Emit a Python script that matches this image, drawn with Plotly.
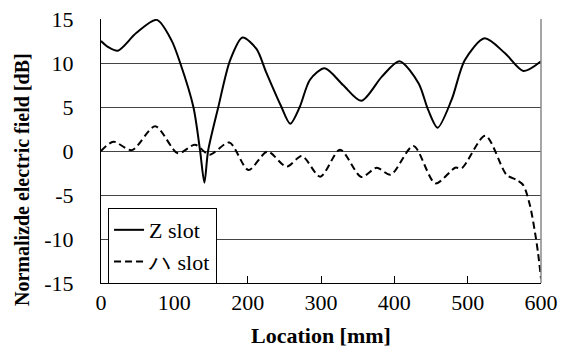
import plotly.graph_objects as go

# Data
z_x = [0, 10, 23, 48, 76, 96, 108, 126, 135, 141, 146, 160, 176, 193, 212, 225, 245, 258, 271, 285,
       305, 330, 355, 383, 407, 433, 446, 459, 478, 496, 523, 551, 576, 600]
z_y = [12.5, 11.8, 11.4, 13.4, 14.9, 12.6, 10.0, 5.0, 0.1, -3.6, 0.0, 5.0, 10.3, 12.9, 11.6, 9.0, 5.2, 3.1, 5.0, 8.1,
       9.4, 7.5, 5.7, 8.45, 10.2, 7.7, 4.7, 2.65, 5.8, 10.3, 12.8, 11.1, 9.1, 10.2]

h_x = [0, 17, 42, 74, 105, 128, 148, 175, 201, 227, 253, 274, 299, 326, 355, 376, 395, 426, 456, 483,
       492, 524, 553, 567, 576, 585, 592, 596, 600]
h_y = [0.0, 1.05, 0.1, 2.8, -0.26, 0.72, -0.42, 0.97, -2.16, -0.07, -1.78, -0.57, -2.92, 0.15, -2.95, -1.9, -2.7, 0.57, -3.68, -1.9,
       -1.95, 1.74, -2.7, -3.3, -3.9, -6.2, -9.35, -11.6, -14.5]

x_ticks = [0, 100, 200, 300, 400, 500, 600]
y_ticks = [-15, -10, -5, 0, 5, 10, 15]

FONT = "Liberation Serif"

fig = go.Figure()
fig.add_trace(go.Scatter(x=z_x, y=z_y, mode="lines", name="Z slot",
                         line=dict(color="black", width=2, shape="spline", smoothing=0.8)))
fig.add_trace(go.Scatter(x=h_x, y=h_y, mode="lines", name="ハ slot",
                         line=dict(color="black", width=2, dash="7px,4px", shape="spline", smoothing=0.8)))

fig.update_layout(
    template="none",
    width=574, height=349,
    margin=dict(l=101, r=33, t=19, b=66, autoexpand=False),
    paper_bgcolor="white", plot_bgcolor="white",
    font=dict(family="serif", size=22, color="black"),
    showlegend=True,
    legend=dict(x=0.016, y=0.284, xanchor="left", yanchor="top",
                bgcolor="white", bordercolor="black", borderwidth=1,
                font=dict(family="Liberation Serif, serif", size=22, color="black", weight="normal"),
                itemwidth=30, tracegroupgap=0),
    xaxis=dict(range=[0, 600], tickvals=x_ticks, ticktext=[str(v) for v in x_ticks],
               showgrid=False, zeroline=False,
               showline=True, linecolor="black", linewidth=1, automargin=False,
               ticks="inside", ticklen=7, tickcolor="black",
               tickfont=dict(family="Times New Roman", size=22, color="black", weight="normal")),
    yaxis=dict(range=[-15, 15], tickvals=y_ticks, ticktext=[str(v) for v in y_ticks],
               showgrid=True, gridcolor="#444444", gridwidth=1,
               zeroline=False, showline=True, linecolor="black", linewidth=1, automargin=False,
               ticks="", ticklabelstandoff=22,
               tickfont=dict(family="serif", size=22, color="black")),
    shapes=[dict(type="line", xref="paper", yref="paper", x0=1, x1=1, y0=0, y1=1,
                 line=dict(color="#888888", width=1.5))],
    annotations=[
        dict(text="<b>Location [mm]</b>", xref="paper", yref="paper", x=0.5, y=-0.2,
             xanchor="center", yanchor="middle", showarrow=False,
             font=dict(family=FONT, size=22, color="black")),
        dict(text="<b>Normalizde electric field [dB]</b>", xref="paper", yref="paper",
             x=-0.1795, y=0.39, xanchor="center", yanchor="middle", textangle=-90,
             showarrow=False, font=dict(family=FONT, size=20, color="black")),
    ],
)

fig.write_html("out.html", config={"displayModeBar": False},
               post_script="document.body.style.margin='0';document.body.style.padding='0';")
